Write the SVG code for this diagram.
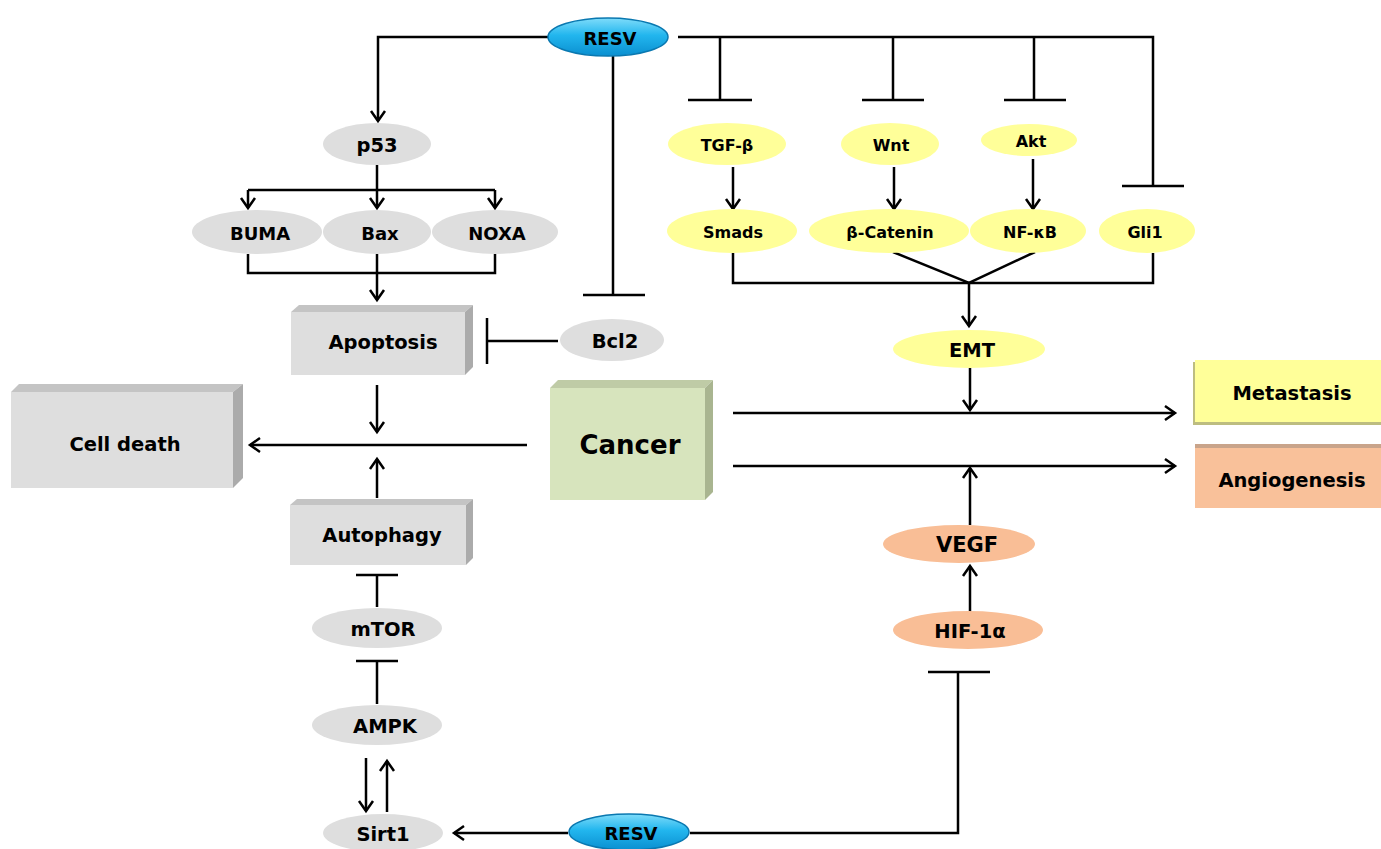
<svg xmlns="http://www.w3.org/2000/svg" width="1381" height="849" viewBox="0 0 1381 849">
<defs>
<linearGradient id="blue" x1="0" y1="0" x2="0" y2="1">
<stop offset="0" stop-color="#7fdcfa"/>
<stop offset="0.45" stop-color="#22b6ee"/>
<stop offset="1" stop-color="#0a8fd0"/>
</linearGradient>
<marker id="arr" markerUnits="userSpaceOnUse" markerWidth="16" markerHeight="20" viewBox="-13 -10 16 20" refX="0" refY="0" orient="auto">
<path d="M-10,-7 L0,0 L-10,7" fill="none" stroke="#000" stroke-width="2.5" stroke-linejoin="miter"/>
</marker>
</defs>
<style>
text{font-family:"DejaVu Sans","Liberation Sans",sans-serif;font-weight:bold;text-anchor:middle;dominant-baseline:central;fill:#000}
.gray{fill:#dedede}
.yel{fill:#ffff99}
.org{fill:#f9be96}
.resv{fill:url(#blue);stroke:#0a78b0;stroke-width:1.5}
.ln{fill:none;stroke:#000;stroke-width:2.5}
.ar{marker-end:url(#arr)}
.s{font-size:16px}
.m{font-size:18px}
.l{font-size:19.5px}
</style>
<rect width="1381" height="849" fill="#fff"/>

<g id="connectors">
<path class="ln ar" d="M548,37 H378 V121"/>
<path class="ln" d="M613,56 V295 M583,295 H645"/>
<path class="ln" d="M678,37 H1153 V186 M1122,186 H1184"/>
<path class="ln" d="M720,37 V100 M688,100 H752"/>
<path class="ln" d="M893,37 V100 M862,100 H924"/>
<path class="ln" d="M1034,37 V100 M1004,100 H1066"/>
<path class="ln ar" d="M377,165 V208"/>
<path class="ln" d="M248,190 H495"/>
<path class="ln ar" d="M248,190 V208"/>
<path class="ln ar" d="M495,190 V208"/>
<path class="ln" d="M248,254 V273 H495 V254"/>
<path class="ln ar" d="M377,254 V300"/>
<path class="ln" d="M558,341 H488 M487,318 V364"/>
<path class="ln ar" d="M377,385 V432"/>
<path class="ln ar" d="M527,445 H250"/>
<path class="ln ar" d="M377,498 V459"/>
<path class="ln" d="M377,607 V575 M356,575 H398"/>
<path class="ln" d="M377,704 V661 M356,661 H398"/>
<path class="ln ar" d="M366,758 V811"/>
<path class="ln ar" d="M387,812 V761"/>
<path class="ln ar" d="M568,833 H454"/>
<path class="ln" d="M690,833 H958 V672 M928,672 H990"/>
<path class="ln ar" d="M970,612 V566"/>
<path class="ln ar" d="M970,525 V468"/>
<path class="ln ar" d="M733,413 H1175"/>
<path class="ln ar" d="M733,466 H1175"/>
<path class="ln ar" d="M970,368 V410"/>
<path class="ln" d="M733,253 V283 H1153 V253"/>
<path class="ln" d="M893,252 L969,283 L1035,252"/>
<path class="ln ar" d="M969,283 V326"/>
<path class="ln ar" d="M733,167 V209"/>
<path class="ln ar" d="M894,167 V209"/>
<path class="ln ar" d="M1033,159 V209"/>
</g>

<g id="resv-top"><ellipse class="resv" cx="608" cy="37" rx="60" ry="19"/><text x="610" y="38" class="m">RESV</text></g>
<g id="resv-bottom"><ellipse class="resv" cx="629" cy="832" rx="60" ry="18"/><text x="631" y="833" class="m">RESV</text></g>

<g id="p53"><ellipse class="gray" cx="377" cy="144" rx="54" ry="21"/><text x="377" y="145" class="l">p53</text></g>
<g id="buma"><ellipse class="gray" cx="257" cy="232" rx="65" ry="22"/><text x="260" y="233" class="m">BUMA</text></g>
<g id="bax"><ellipse class="gray" cx="377" cy="232" rx="54" ry="22"/><text x="380" y="233" class="m">Bax</text></g>
<g id="noxa"><ellipse class="gray" cx="495" cy="232" rx="63" ry="22"/><text x="497" y="233" class="m">NOXA</text></g>
<g id="bcl2"><ellipse class="gray" cx="612" cy="340" rx="52" ry="21"/><text x="615" y="341" class="l">Bcl2</text></g>

<g id="apoptosis">
<polygon points="291,312 299,305 473,305 465,312" fill="#c4c4c4"/>
<polygon points="465,312 473,305 473,367 465,375" fill="#ababab"/>
<rect x="291" y="312" width="174" height="63" class="gray"/>
<text x="383" y="342" class="l">Apoptosis</text>
</g>
<g id="autophagy">
<polygon points="290,505 297,499 473,499 466,505" fill="#c4c4c4"/>
<polygon points="466,505 473,499 473,558 466,565" fill="#ababab"/>
<rect x="290" y="505" width="176" height="60" class="gray"/>
<text x="382" y="535" class="l">Autophagy</text>
</g>
<g id="cell-death">
<polygon points="11,392 19,384 243,384 233,392" fill="#c4c4c4"/>
<polygon points="233,392 243,384 243,478 233,488" fill="#ababab"/>
<rect x="11" y="392" width="222" height="96" class="gray"/>
<text x="125" y="444" class="l">Cell death</text>
</g>
<g id="cancer">
<polygon points="550,388 558,380 713,380 705,388" fill="#bfcba6"/>
<polygon points="705,388 713,380 713,492 705,500" fill="#a9b590"/>
<rect x="550" y="388" width="155" height="112" fill="#d7e4bd"/>
<text x="630" y="445" style="font-size:26px">Cancer</text>
</g>

<g id="mtor"><ellipse class="gray" cx="377" cy="628" rx="65" ry="20"/><text x="383" y="629" class="l">mTOR</text></g>
<g id="ampk"><ellipse class="gray" cx="377" cy="725" rx="65" ry="20"/><text x="385" y="726" class="l">AMPK</text></g>
<g id="sirt1"><ellipse class="gray" cx="383" cy="833" rx="60" ry="19"/><text x="383" y="834" class="l">Sirt1</text></g>

<g id="tgf"><ellipse class="yel" cx="727" cy="144" rx="59" ry="21"/><text x="727" y="145" class="s">TGF-β</text></g>
<g id="wnt"><ellipse class="yel" cx="890" cy="144" rx="49" ry="21"/><text x="891" y="145" class="s">Wnt</text></g>
<g id="akt"><ellipse class="yel" cx="1029" cy="140" rx="48" ry="16"/><text x="1031" y="141" class="s">Akt</text></g>
<g id="smads"><ellipse class="yel" cx="732" cy="231" rx="65" ry="22"/><text x="733" y="232" class="s">Smads</text></g>
<g id="bcatenin"><ellipse class="yel" cx="889" cy="231" rx="80" ry="22"/><text x="890" y="232" class="s">β-Catenin</text></g>
<g id="nfkb"><ellipse class="yel" cx="1028" cy="231" rx="58" ry="22"/><text x="1030" y="232" class="s">NF-κB</text></g>
<g id="gli1"><ellipse class="yel" cx="1147" cy="231" rx="48" ry="22"/><text x="1145" y="232" class="s">Gli1</text></g>
<g id="emt"><ellipse class="yel" cx="969" cy="349" rx="76" ry="19"/><text x="972" y="350" class="l">EMT</text></g>

<g id="vegf"><ellipse class="org" cx="959" cy="544" rx="76" ry="19"/><text x="967" y="545" style="font-size:21px">VEGF</text></g>
<g id="hif"><ellipse class="org" cx="968" cy="630" rx="75" ry="19"/><text x="970" y="631" class="l">HIF-1α</text></g>

<g id="metastasis">
<rect x="1193" y="362" width="188" height="63" fill="#bdbd80"/>
<rect x="1195" y="360" width="186" height="62" fill="#ffff99"/>
<text x="1292" y="393" class="l">Metastasis</text>
</g>
<g id="angiogenesis">
<rect x="1195" y="444" width="186" height="7" fill="#c9a48a"/>
<rect x="1195" y="448" width="186" height="60" fill="#f9c19a"/>
<text x="1292" y="480" class="l">Angiogenesis</text>
</g>
</svg>
